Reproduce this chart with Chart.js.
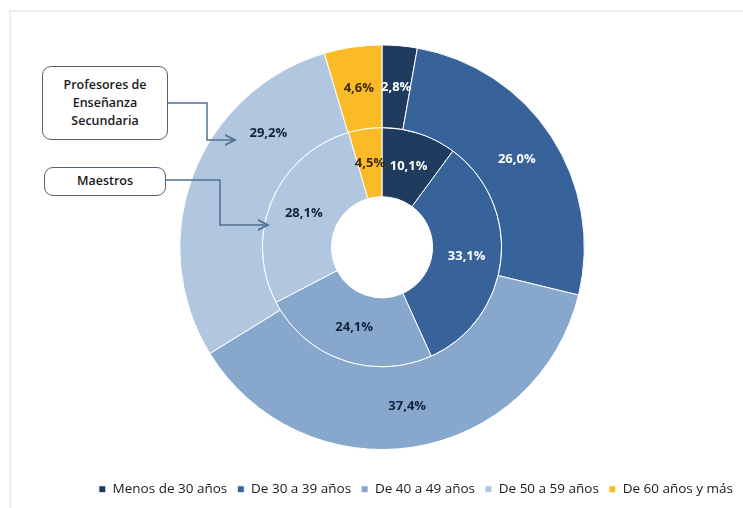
<!DOCTYPE html>
<html lang="es">
<head>
  <meta charset="UTF-8" />
  <title>Edad del profesorado</title>
  <script src="https://cdn.jsdelivr.net/npm/chart.js"></script>
  <style>
    html, body {
      margin: 0;
      padding: 0;
      background: #fff;
    }

    .wrap {
      position: relative;
      width: 743px;
      height: 508px;
      font-family: "Open Sans", sans-serif;
    }

    .frame {
      position: absolute;
      left: 9px;
      top: 10px;
      right: -2px;
      bottom: -2px;
      border-top: 2px solid #ececec;
      border-left: 2px solid #ececec;
    }

    .callout {
      position: absolute;
      background: #fff;
      border: 1px solid #556270;
      border-radius: 9px;
      text-align: center;
      font-size: 12.5px;
      font-weight: 600;
      color: #1a1a1a;
      line-height: 18px;
      box-sizing: border-box;
    }

    #arrows {
      position: absolute;
      left: 0;
      top: 0;
      pointer-events: none;
    }
  </style>
</head>
<body>

<div class="wrap">
  <div class="frame"></div>
  <canvas id="chart" width="743" height="508"></canvas>
  <svg id="arrows" width="743" height="508">
    <defs>
      <marker id="tip" markerWidth="8" markerHeight="8" refX="7" refY="4" orient="auto">
        <path d="M0,0.5 L7,4 L0,7.5" fill="none" stroke="#50708f" stroke-width="1.2" />
      </marker>
    </defs>
    <polyline points="168,103 207,103 207,140 235,140" fill="none" stroke="#50708f" stroke-width="1.5" marker-end="url(#tip)" />
    <polyline points="166,180 220,180 220,225 268,225" fill="none" stroke="#50708f" stroke-width="1.5" marker-end="url(#tip)" />
  </svg>
  <div class="callout" style="left:42px; top:66px; width:126px; height:74px; padding-top:9px;">Profesores de<br>Enseñanza<br>Secundaria</div>
  <div class="callout" style="left:44px; top:167px; width:122px; height:29px; padding-top:4px;">Maestros</div>
</div>

<script>
  const ageGroups = ['Menos de 30 años', 'De 30 a 39 años', 'De 40 a 49 años', 'De 50 a 59 años', 'De 60 años y más'];
  const secundaria = [2.8, 26.0, 37.4, 29.2, 4.6];
  const maestros = [10.1, 33.1, 24.1, 28.1, 4.5];

  const colors = ['#1f3b5e', '#37629a', '#87a7cc', '#b1c6df', '#fbba27'];
  const labelColors = ['#ffffff', '#ffffff', '#13233a', '#13233a', '#3a2a00'];

  // la etiqueta 29,2% esta desplazada hacia la flecha (fraccion del arco)
  const labelShift = { '0-3': 0.73 };

  const pctLabels = {
    id: 'pctLabels',
    afterDatasetsDraw(chart) {
      const ctx = chart.ctx;
      ctx.save();
      ctx.font = 'bold 13px "Open Sans", sans-serif';
      ctx.textAlign = 'center';
      ctx.textBaseline = 'middle';
      chart.data.datasets.forEach((ds, di) => {
        chart.getDatasetMeta(di).data.forEach((arc, i) => {
          const a = arc.getProps(['x', 'y', 'startAngle', 'endAngle', 'innerRadius', 'outerRadius']);
          const f = labelShift[di + '-' + i] ?? 0.5;
          const ang = a.startAngle + (a.endAngle - a.startAngle) * f;
          const r = (a.innerRadius + a.outerRadius) / 2;
          ctx.fillStyle = labelColors[i];
          ctx.fillText(ds.data[i].toFixed(1).replace('.', ',') + '%',
            a.x + Math.cos(ang) * r, a.y + Math.sin(ang) * r);
        });
      });
      ctx.restore();
    }
  };

  new Chart(document.getElementById('chart'), {
    type: 'doughnut',
    data: {
      labels: ageGroups,
      datasets: [
        {
          label: 'Profesores de Enseñanza Secundaria',
          data: secundaria,
          backgroundColor: colors,
          borderColor: '#ffffff',
          borderWidth: 1,
          weight: 85
        },
        {
          label: 'Maestros',
          data: maestros,
          backgroundColor: colors,
          borderColor: '#ffffff',
          borderWidth: 1,
          weight: 71
        }
      ]
    },
    options: {
      responsive: false,
      animation: false,
      cutout: '25%',
      radius: '90%',
      layout: {
        padding: { top: 22, left: 21, right: 0, bottom: 2 }
      },
      plugins: {
        tooltip: { enabled: false },
        legend: {
          position: 'bottom',
          align: 'end',
          labels: {
            boxWidth: 7,
            boxHeight: 7,
            padding: 10,
            color: '#1a1a1a',
            font: { family: 'Open Sans', size: 13.5 }
          }
        }
      }
    },
    plugins: [pctLabels]
  });
</script>

</body>
</html>
